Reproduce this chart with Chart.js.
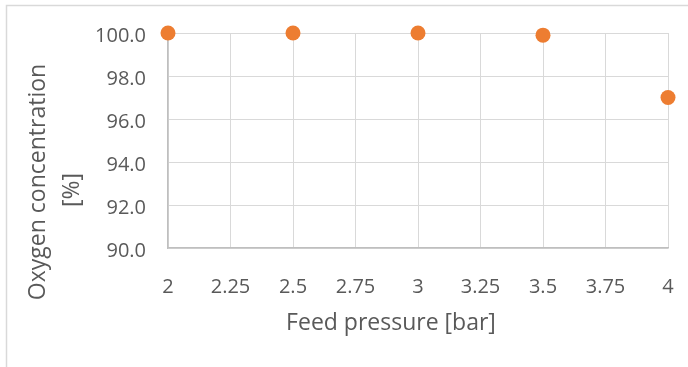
<!DOCTYPE html>
<html>
<head>
<meta charset="utf-8">
<script src="https://cdn.jsdelivr.net/npm/chart.js@4/dist/chart.umd.min.js"></script>
<style>
  html, body { margin: 0; padding: 0; background: #ffffff; }
  #wrap { position: relative; width: 688px; height: 367px; }
</style>
</head>
<body>
<div id="wrap"><canvas id="c" width="688" height="367"></canvas></div>
<script>
// Feed pressure (bar) against oxygen purity (%)
const feedPressure = [2, 2.5, 3, 3.5, 4];
const oxygenConc = [100.0, 100.0, 100.0, 99.9, 97.0];
const xTicks = [2, 2.25, 2.5, 2.75, 3, 3.25, 3.5, 3.75, 4];
const yTicks = [90, 92, 94, 96, 98, 100];
const xTitle = 'Feed pressure [bar]';
const yTitleLines = ['Oxygen concentration', '[%]'];

const FONT = '"Open Sans", "Liberation Sans", sans-serif';
const TEXT = '#595959';
const GRID = '#d9d9d9';

// Axis titles and the outer frame, drawn on the canvas
const decor = {
  id: 'decor',
  afterDraw(chart) {
    const ctx = chart.ctx;
    ctx.save();
    ctx.strokeStyle = '#d9d9d9';
    ctx.lineWidth = 1.5;
    ctx.strokeRect(6.5, 5.5, 720, 400);

    ctx.fillStyle = TEXT;
    ctx.font = '23px ' + FONT;
    ctx.textAlign = 'center';
    ctx.textBaseline = 'middle';
    ctx.fillText(xTitle, 391, 323);

    const centers = [[38, 182], [72, 190]];
    yTitleLines.forEach((line, i) => {
      ctx.save();
      ctx.translate(centers[i][0], centers[i][1]);
      ctx.rotate(-Math.PI / 2);
      ctx.fillText(line, 0, 0);
      ctx.restore();
    });
    ctx.restore();
  }
};

new Chart(document.getElementById('c'), {
  type: 'scatter',
  data: {
    datasets: [{
      data: feedPressure.map((x, i) => ({ x, y: oxygenConc[i] })),
      backgroundColor: '#ED7D31',
      borderColor: '#ED7D31',
      pointRadius: 7.5,
      pointHoverRadius: 7.5,
      borderWidth: 0,
      showLine: false,
      clip: false
    }]
  },
  options: {
    responsive: false,
    animation: false,
    layout: { autoPadding: false, padding: { left: 0, right: 20, top: 33, bottom: 0 } },
    plugins: { legend: { display: false }, tooltip: { enabled: false } },
    scales: {
      x: {
        type: 'linear',
        min: 2, max: 4,
        afterBuildTicks(scale) { scale.ticks = xTicks.map(v => ({ value: v })); },
        afterFit(scale) {
          scale.height = 119;
          scale.paddingLeft = 0;
          scale.paddingRight = 0;
        },
        grid: { color: GRID, lineWidth: 1, drawTicks: false },
        border: { color: '#bfbfbf', width: 1.5 },
        ticks: {
          color: TEXT, font: { family: FONT, size: 20 }, padding: 27,
          maxRotation: 0, autoSkip: false,
          callback: v => String(v)
        }
      },
      y: {
        min: 90, max: 100,
        afterBuildTicks(scale) { scale.ticks = yTicks.map(v => ({ value: v })); },
        afterFit(scale) {
          scale.width = 168;
          scale.paddingTop = 0;
          scale.paddingBottom = 0;
        },
        grid: { color: GRID, lineWidth: 1, drawTicks: false },
        border: { color: '#bfbfbf', width: 1.5 },
        ticks: {
          color: TEXT, font: { family: FONT, size: 20 }, padding: 22,
          labelOffset: 3,
          callback: v => Number(v).toFixed(1)
        }
      }
    }
  },
  plugins: [decor]
});
</script>
</body>
</html>
